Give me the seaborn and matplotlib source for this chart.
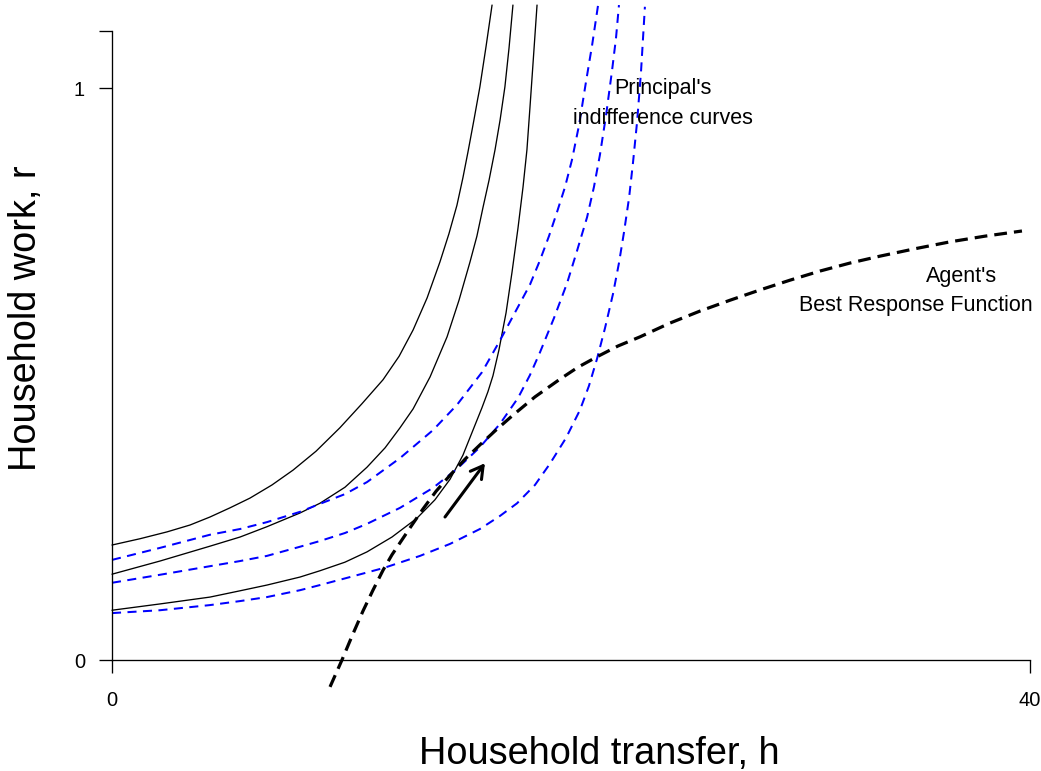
import matplotlib
matplotlib.use("Agg")
import matplotlib.pyplot as plt
import seaborn as sns

# ---- data ----
# Agent's indifference curves (black, solid)
agent1_h = [0, 1.22, 2.40, 3.40, 4.27, 5.14, 6.01, 6.97, 7.89, 8.89, 9.93, 10.89, 11.81,
            12.51, 13.12, 13.73, 14.29, 14.68, 15.03, 15.29, 15.51, 15.77, 16.03, 16.30, 16.56]
agent1_r = [0.201, 0.212, 0.224, 0.236, 0.250, 0.266, 0.283, 0.306, 0.332, 0.365, 0.406, 0.448, 0.490,
            0.531, 0.577, 0.633, 0.696, 0.745, 0.795, 0.843, 0.888, 0.944, 1.002, 1.073, 1.145]

agent2_h = [0, 2.09, 4.27, 5.58, 6.75, 8.19, 9.06, 10.15, 11.11, 11.90, 12.55, 13.12, 13.86,
            14.60, 15.12, 15.60, 15.90, 16.17, 16.43, 16.69, 16.91, 17.12, 17.30, 17.47]
agent2_r = [0.150, 0.173, 0.199, 0.215, 0.233, 0.257, 0.274, 0.302, 0.337, 0.371, 0.406, 0.439, 0.495,
            0.565, 0.629, 0.696, 0.741, 0.792, 0.839, 0.892, 0.944, 1.002, 1.070, 1.145]

agent3_h = [0, 2.09, 4.27, 5.58, 6.75, 8.19, 9.06, 10.15, 11.11, 12.20, 13.29, 14.07, 14.73, 15.29,
            15.77, 16.12, 16.38, 16.60, 16.86, 17.17, 17.43, 17.69, 17.91, 18.08, 18.21, 18.34, 18.52]
agent3_r = [0.087, 0.098, 0.110, 0.121, 0.131, 0.145, 0.156, 0.171, 0.189, 0.215, 0.248, 0.280, 0.316, 0.358,
            0.406, 0.441, 0.469, 0.497, 0.542, 0.607, 0.678, 0.755, 0.827, 0.892, 0.965, 1.040, 1.145]

# Principal's indifference curves (blue, dashed)
princ1_h = [0, 2.09, 4.27, 5.58, 6.75, 8.19, 9.06, 10.15, 11.11, 12.55, 13.99, 15.03, 16.12,
            16.91, 17.78, 18.21, 18.65, 19.04, 19.39, 19.74, 20.04, 20.35, 20.65, 20.92, 21.18]
princ1_r = [0.175, 0.196, 0.219, 0.229, 0.241, 0.259, 0.273, 0.290, 0.311, 0.353, 0.402, 0.446, 0.503,
            0.559, 0.624, 0.656, 0.699, 0.741, 0.783, 0.827, 0.874, 0.935, 1.010, 1.075, 1.145]

princ2_h = [0, 2.09, 4.27, 5.58, 6.75, 8.19, 9.06, 10.15, 11.11, 12.55, 13.99, 15.03, 16.03, 16.91,
            17.69, 18.21, 18.65, 19.26, 19.83, 20.26, 20.70, 21.00, 21.26, 21.53, 21.79, 21.96, 22.09]
princ2_r = [0.135, 0.149, 0.164, 0.173, 0.182, 0.198, 0.208, 0.222, 0.238, 0.266, 0.301, 0.334, 0.372, 0.413,
            0.458, 0.498, 0.538, 0.598, 0.659, 0.715, 0.774, 0.827, 0.883, 0.953, 1.031, 1.087, 1.145]

princ3_h = [0, 2.09, 4.27, 5.58, 6.75, 8.19, 9.06, 10.37, 11.85, 13.42, 14.73, 16.03, 16.91, 17.65, 18.43,
            19.08, 19.78, 20.39, 20.78, 21.13, 21.48, 21.83, 22.09, 22.31, 22.53, 22.70, 22.88, 23.05, 23.22]
princ3_r = [0.082, 0.087, 0.096, 0.103, 0.110, 0.122, 0.131, 0.145, 0.161, 0.182, 0.203, 0.229, 0.252, 0.274, 0.306,
            0.343, 0.388, 0.437, 0.479, 0.526, 0.580, 0.640, 0.694, 0.748, 0.808, 0.869, 0.941, 1.028, 1.142]

# Agent's best response function (black, thick dashed)
br_h = [9.50, 10.02, 10.46, 10.94, 11.37, 11.81, 12.20, 12.55, 13.07, 13.55, 14.12, 14.73, 15.38, 16.03,
        16.73, 17.47, 18.43, 19.52, 20.31, 21.13, 22.05, 23.01, 24.31, 25.62, 26.93, 28.24, 29.54, 30.85,
        32.16, 33.46, 34.99, 36.51, 38.04, 39.65]
br_r = [-0.047, 0.0, 0.042, 0.086, 0.122, 0.157, 0.184, 0.205, 0.236, 0.264, 0.295, 0.323, 0.351, 0.376,
        0.402, 0.428, 0.460, 0.491, 0.512, 0.530, 0.549, 0.565, 0.589, 0.610, 0.629, 0.647, 0.664, 0.680,
        0.694, 0.706, 0.719, 0.731, 0.741, 0.750]

# arrow (tail -> head)
arrow_h = [14.51, 16.25]
arrow_r = [0.250, 0.344]

x_ticks = [0, 40]
x_ticklabels = ["0", "40"]
y_ticks = [0, 1, 1.1]
y_ticklabels = ["0", "1", ""]

# ---- figure ----
W, H = 1041, 771
sns.set_style("white")
plt.rcParams["font.family"] = ["Liberation Sans", "DejaVu Sans"]
plt.rcParams["text.color"] = "black"
plt.rcParams["axes.labelcolor"] = "black"
plt.rcParams["xtick.color"] = "black"
plt.rcParams["ytick.color"] = "black"

fig = plt.figure(figsize=(W / 100, H / 100), dpi=100)
ax = fig.add_axes([0, 0, 1, 1])

PX_X = 22.95   # pixels per unit h
PX_Y = 572.0   # pixels per unit r
X0, Y0 = 112, 660
ax.set_xlim(-X0 / PX_X, (W - X0) / PX_X)
ax.set_ylim(-(H - Y0) / PX_Y, Y0 / PX_Y)

for h, r in [(agent1_h, agent1_r), (agent2_h, agent2_r), (agent3_h, agent3_r)]:
    sns.lineplot(x=h, y=r, ax=ax, color="black", linewidth=0.95,
                 estimator=None, sort=False, legend=False)

for h, r in [(princ1_h, princ1_r), (princ2_h, princ2_r), (princ3_h, princ3_r)]:
    sns.lineplot(x=h, y=r, ax=ax, color="#0000FF", linewidth=1.45,
                 linestyle=(0, (4.5, 3.2)), estimator=None, sort=False, legend=False)

sns.lineplot(x=br_h, y=br_r, ax=ax, color="black", linewidth=2.3,
             linestyle=(0, (4.0, 2.2)), estimator=None, sort=False, legend=False)

ax.annotate("", xy=(arrow_h[1], arrow_r[1]), xytext=(arrow_h[0], arrow_r[0]),
            arrowprops=dict(arrowstyle="->,head_length=0.87,head_width=0.5",
                            lw=2.2, color="black", shrinkA=0, shrinkB=0,
                            mutation_scale=10))

# axes in R style
for s in ["top", "right"]:
    ax.spines[s].set_visible(False)
ax.spines["left"].set_position(("data", 0))
ax.spines["bottom"].set_position(("data", 0))
ax.spines["left"].set_bounds(0, 1.1)
ax.spines["bottom"].set_bounds(0, 40)
for s in ["left", "bottom"]:
    ax.spines[s].set_linewidth(0.95)
    ax.spines[s].set_color("black")
ax.set_xticks(x_ticks)
ax.set_xticklabels(x_ticklabels)
ax.set_yticks(y_ticks)
ax.set_yticklabels(y_ticklabels)
ax.tick_params(axis="both", direction="out", length=9.4, width=0.95,
               labelsize=14.5, colors="black", bottom=True, left=True,
               top=False, right=False)
ax.tick_params(axis="x", pad=13)
ax.tick_params(axis="y", pad=10)
ax.set_xlabel("")
ax.set_ylabel("")

def fx(px):
    return px / W

def fy(py):
    return 1 - py / H

# annotations
fig.text(fx(663), fy(94), "Principal's", ha="center", va="baseline", fontsize=15.5, color="black")
fig.text(fx(663), fy(124), "indifference curves", ha="center", va="baseline", fontsize=15.5, color="black")
fig.text(fx(962), fy(282), "Agent's", ha="center", va="baseline", fontsize=15.5, color="black")
fig.text(fx(915.5), fy(311), "Best Response Function", ha="center", va="baseline", fontsize=15.5, color="black")

# axis titles
fig.text(fx(599), fy(764), "Household transfer, h", ha="center", va="baseline", fontsize=27.3, color="black")
fig.text(fx(26), fy(318), "Household work, r", ha="center", va="center",
         rotation=90, fontsize=27.3, color="black")

fig.savefig("out.png", dpi=100)
